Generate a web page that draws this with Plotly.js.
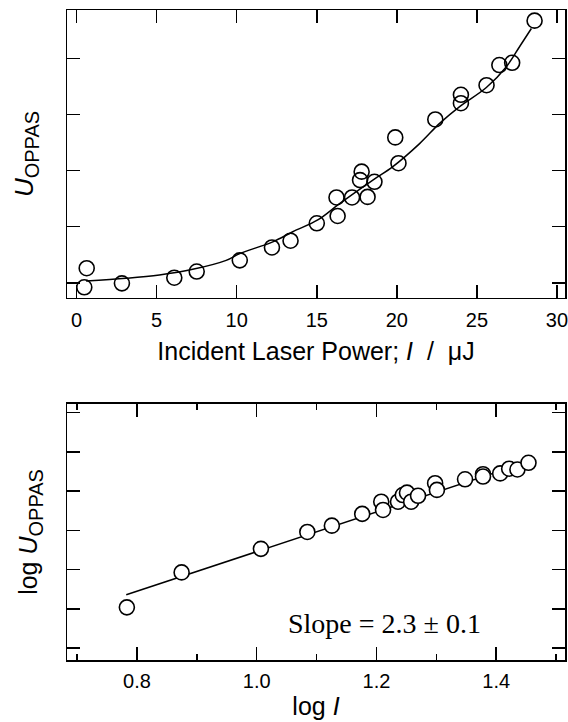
<!DOCTYPE html>
<html>
<head>
<meta charset="utf-8">
<script src="https://cdn.plot.ly/plotly-3.0.1.min.js"></script>
<style>html,body{margin:0;padding:0;background:#fff;}#chart{width:568px;height:722px;}</style>
</head>
<body>
<div id="chart"></div>
<script>
// Top panel: U_OPPAS vs incident laser power (arbitrary y units)
const powerX = [0.48, 0.63, 2.83, 6.1, 7.5, 10.19, 12.2, 13.36, 15.0, 16.23, 16.3, 17.2, 17.7, 17.8, 18.17, 18.6, 19.9, 20.1, 22.4, 24.0, 24.0, 25.6, 26.4, 27.2, 28.6];
const signalY = [-0.08, 0.26, -0.01, 0.09, 0.20, 0.40, 0.63, 0.75, 1.06, 1.52, 1.19, 1.52, 1.83, 1.98, 1.53, 1.80, 2.59, 2.13, 2.91, 3.20, 3.35, 3.52, 3.88, 3.92, 4.67];
const fitPowerX = [0.59, 3.09, 5.17, 7.25, 9.34, 10.19, 12.25, 13.5, 15.06, 16.42, 18.5, 19.75, 21.42, 22.67, 23.92, 25.59, 26.84, 27.67, 28.4];
const fitSignalY = [0.03, 0.08, 0.14, 0.24, 0.40, 0.52, 0.73, 0.91, 1.12, 1.41, 1.83, 2.07, 2.48, 2.84, 3.14, 3.48, 3.85, 4.21, 4.53];
const powerTicks = [0, 5, 10, 15, 20, 25, 30];
const powerTickText = ['0', '5', '10', '15', '20', '25', '30'];
const signalTicks = [0, 1, 2, 3, 4];

// Bottom panel: log U_OPPAS vs log I
const logIX = [0.783, 0.8745, 1.007, 1.0845, 1.1255, 1.1762, 1.208, 1.211, 1.236, 1.244, 1.251, 1.258, 1.2695, 1.298, 1.301, 1.348, 1.378, 1.378, 1.4067, 1.4217, 1.4355, 1.454];
const logUY = [1.04, 1.93, 2.53, 2.96, 3.12, 3.42, 3.73, 3.52, 3.73, 3.90, 3.96, 3.73, 3.88, 4.20, 4.03, 4.30, 4.43, 4.37, 4.45, 4.57, 4.55, 4.72];
const fitLogIX = [0.782, 1.448];
const fitLogUY = [1.36, 4.72];
const logITicks = [0.8, 1.0, 1.2, 1.4];
const logITickText = ['0.8', '1.0', '1.2', '1.4'];
const logIMinor = [0.7, 0.9, 1.1, 1.3, 1.5];
const logUTicks = [0, 1, 2, 3, 4, 5, 6];
const slopeText = 'Slope = 2.3 \u00b1 0.1';

const sans = 'Liberation Sans, Arial, sans-serif';
const axBase = {
  showline: true, linecolor: 'black', linewidth: 1.5, mirror: 'allticks',
  ticks: 'inside', ticklen: 13, tickwidth: 1.5, tickcolor: 'black',
  showgrid: false, zeroline: false, tickfont: {family: sans, size: 20, color: 'black'},
  ticklabeloverflow: 'allow'
};

const traces = [
  {x: fitPowerX, y: fitSignalY, xaxis: 'x', yaxis: 'y', mode: 'lines', line: {color: 'black', width: 1.5, shape: 'spline'}, hoverinfo: 'skip'},
  {x: powerX, y: signalY, xaxis: 'x', yaxis: 'y', mode: 'markers', marker: {symbol: 'circle-open', size: 15, color: 'black', line: {color: 'black', width: 1.6}}},
  {x: fitLogIX, y: fitLogUY, xaxis: 'x2', yaxis: 'y2', mode: 'lines', line: {color: 'black', width: 1.5}},
  {x: logIX, y: logUY, xaxis: 'x2', yaxis: 'y2', mode: 'markers', marker: {symbol: 'circle', size: 15, color: 'white', line: {color: 'black', width: 1.6}}}
];

const subStyle = 'font-size:20px';
const layout = {
  width: 568, height: 722, showlegend: false,
  paper_bgcolor: 'white', plot_bgcolor: 'white',
  margin: {l: 67, r: 3, t: 10, b: 62},
  xaxis: Object.assign({}, axBase, {
    domain: [0, 1], anchor: 'y', range: [-0.6, 30.5],
    tickmode: 'array', tickvals: powerTicks, ticktext: powerTickText, ticklabelstandoff: 4,
    title: {text: 'Incident Laser Power; <i>I</i>  /  \u03bcJ', font: {family: sans, size: 25, color: 'black'}, standoff: 12}
  }),
  yaxis: Object.assign({}, axBase, {
    domain: [0.557, 1], anchor: 'x', range: [-0.27, 4.86],
    tickmode: 'array', tickvals: signalTicks, showticklabels: false,
    title: {text: '<i>U</i><sub><span style="' + subStyle + '">OPPAS</span></sub>', font: {family: sans, size: 26, color: 'black'}, standoff: 24}
  }),
  xaxis2: Object.assign({}, axBase, {
    domain: [0, 1], anchor: 'y2', range: [0.683, 1.515],
    tickmode: 'array', tickvals: logITicks, ticktext: logITickText, ticklabelstandoff: 2,
    minor: {tickmode: 'array', tickvals: logIMinor, ticks: 'inside', ticklen: 6, tickwidth: 1.5, tickcolor: 'black'},
    title: {text: 'log <i>I</i>', font: {family: sans, size: 25, color: 'black'}, standoff: 7}
  }),
  yaxis2: Object.assign({}, axBase, {
    domain: [0, 0.394], anchor: 'x2', range: [-0.30, 6.22],
    tickmode: 'array', tickvals: logUTicks, showticklabels: false,
    title: {text: 'log <i>U</i><sub><span style="' + subStyle + '">OPPAS</span></sub>', font: {family: sans, size: 25, color: 'black'}, standoff: 20}
  }),
  annotations: [
    {xref: 'x2', yref: 'y2', x: 1.214, y: 0.62, text: slopeText, showarrow: false, xanchor: 'center', yanchor: 'middle',
     font: {family: 'Liberation Serif, Times New Roman, serif', size: 28, color: 'black'}}
  ]
};

Plotly.newPlot('chart', traces, layout, {staticPlot: true, displayModeBar: false});
</script>
</body>
</html>
